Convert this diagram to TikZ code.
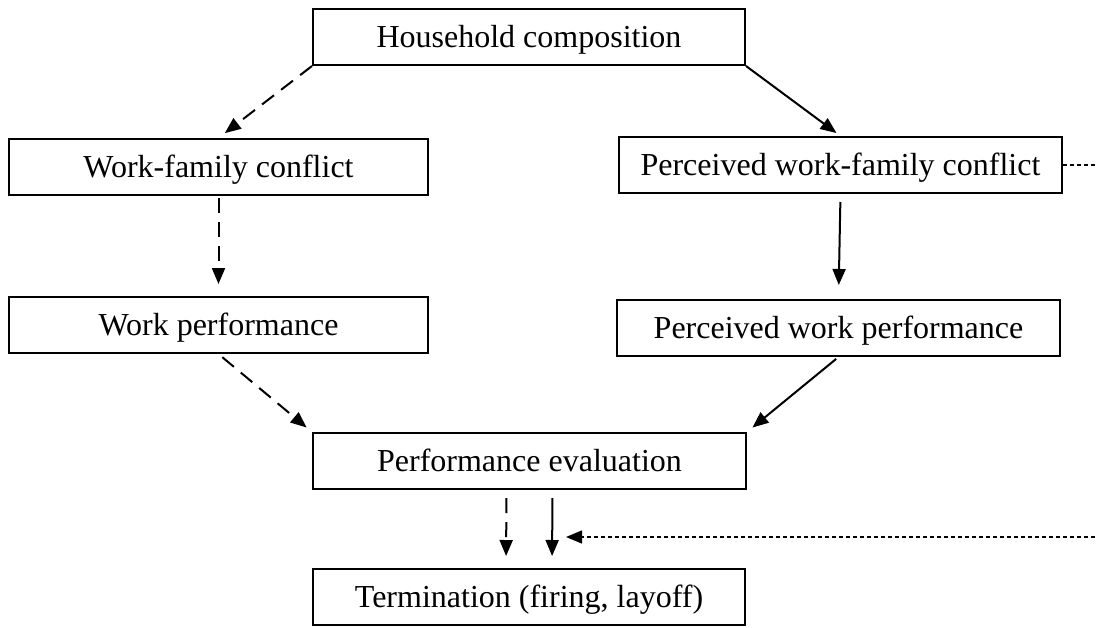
\documentclass[tikz,border=0pt]{standalone}
\usepackage{fontspec}
\setmainfont{Liberation Serif}
\usetikzlibrary{arrows.meta,positioning}

\begin{document}
\begin{tikzpicture}[x=1pt, y=-1pt,
    box/.style={rectangle, draw, line width=2pt, minimum height=56pt, inner sep=0pt,
        text depth=2pt, font=\fontsize{32}{38}\selectfont},
    link/.style={line width=2pt, -{Triangle[length=16pt, width=13pt]}},
    longdash/.style={link, dash pattern=on 15pt off 9pt},
    feedback/.style={link, line width=1.4pt, dash pattern=on 4pt off 3pt}]

    \useasboundingbox (0,0) rectangle (1097,627);

    % Draw nodes
    \node[box, minimum width=432pt] (house) at (529,37) {Household composition};
    \node[box, minimum width=419pt] (wfc) at (218.5,167) {Work-family conflict};
    \node[box, minimum width=443pt] (pwfc) at (840.5,165) {Perceived work-family conflict};
    \node[box, minimum width=419pt] (perf) at (218.5,325) {Work performance};
    \node[box, minimum width=443pt] (pperf) at (838.5,328) {Perceived work performance};
    \node[box, minimum width=433pt] (eval) at (529.5,461) {Performance evaluation};
    \node[box, minimum width=432pt] (term) at (529,597) {Termination (firing, layoff)};

    % Draw arrows
    \draw[longdash, shorten >=8pt] (house.south west) -- (wfc.north);
    \draw[link, shorten >=5pt] (house.south east) -- (pwfc.north);
    \draw[longdash, shorten <=2pt, shorten >=12pt] (wfc.south) -- (perf.north);
    \draw[link, shorten <=8pt, shorten >=14pt] (pwfc.south) -- (pperf.north);
    \draw[longdash, shorten <=5pt, shorten >=7pt] (perf.south) -- (eval.north west);
    \draw[link, shorten <=3pt, shorten >=7pt] (pperf.south) -- (eval.north east);
    \draw[longdash, shorten <=8pt, shorten >=12pt] ([xshift=-23pt]eval.south) -- ([xshift=-23pt]term.north);
    \draw[link, shorten <=8pt, shorten >=12pt] ([xshift=23pt]eval.south) -- ([xshift=23pt]term.north);

    % Feedback loop (runs off the right edge)
    \coordinate (fbtop) at (1110,165);
    \coordinate (fbbot) at (1110,537);
    \coordinate (fbend) at (566,537);
    \draw[feedback] (pwfc.east) -- (fbtop) -- (fbbot) -- (fbend);
\end{tikzpicture}
\end{document}
